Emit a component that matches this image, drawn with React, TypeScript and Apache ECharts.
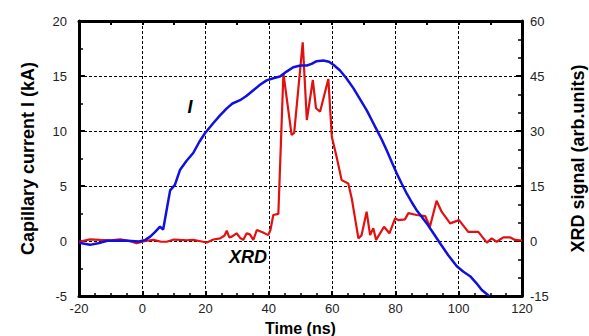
import React, { useEffect, useRef } from "react";
import * as echarts from "echarts";

const currentTime = [-20,-16.5,-14,-11,-6,-1,1,2.5,4,5.6,6.6,7.5,8.8,10.3,11.9,14,16.1,18,19.8,22.4,24.5,26.7,28.5,30.9,33,35.1,37.2,39.3,41.4,43.5,45.6,47.7,50,52,53.5,55.1,57.2,59,60.5,62.5,64.5,66.7,68.8,70.9,72.5,74.1,75.7,77.2,78.8,80.4,82,83.6,85.2,86.7,88.3,89.9,92,94.1,96.7,99.4,101.5,103.6,105.5,107.3,109.6];
const currentKA = [-0.15,-0.35,-0.2,0.03,0.05,-0.05,0.1,0.4,0.8,1.3,1.05,2.5,4.6,5.1,6.45,7.3,8.0,9.0,9.8,10.7,11.4,12.06,12.5,12.8,13.2,13.7,14.2,14.6,14.8,14.95,15.4,15.8,15.95,15.95,16.1,16.35,16.4,16.3,16.0,15.5,14.8,13.9,12.9,11.9,11.0,10.1,9.2,8.27,7.2,6.15,5.2,4.3,3.5,2.8,2.2,1.6,0.7,-0.2,-1.3,-2.3,-2.8,-3.2,-3.8,-4.45,-5];

const xrdTime = [-20,-16.5,-13.4,-10,-7,-4,-1.8,1,3.5,6,7.7,10,11.9,14,16.1,18,20.4,22.5,24.6,26,26.7,27.5,28.3,29.8,31,31.9,33,34,35.1,36.2,38,39.8,40.5,41.4,43,44.6,47.2,48,50.7,52,53.9,54.9,56.2,58.8,59.9,61.4,63,65.1,66.2,68.3,69.3,70.9,72,73,73.9,76.4,78.1,79.9,80.9,83,84.1,86.7,89.4,90.9,93,94.6,97.3,100.1,103,106.2,108.9,110.4,112,114.1,116.2,117.8,120];
const xrdSignal = [-0.2,0.45,0.3,0.2,0.45,0,-0.6,0,0.3,-0.2,-0.2,0.4,0.3,0.2,0.3,0,-0.4,0.4,0.7,1.5,2.8,1.0,1.2,2.1,0.8,0.3,2.1,1.8,0.3,3.0,2.4,1.6,3.0,7.1,7.4,45.7,28.9,29.5,54.2,33,43.9,36.2,35.3,44.2,28.4,23,16.6,15.7,11.6,0.7,1.6,8.0,1.6,3.5,0.3,3.9,2.1,6.2,5.7,5.9,7.6,7.1,6.8,3.9,11.0,8.0,4.8,5.7,2.5,2.5,-0.45,0.7,-0.2,1.0,1.0,0.3,0.1];

const xTicks = [-20, 120, 20];
const leftTicks = [-5, 20, 5];
const rightTicks = [-15, 60, 15];

const FONT = "'Liberation Sans', Arial, sans-serif";

export default function App() {
  const ref = useRef<HTMLDivElement>(null);
  useEffect(() => {
    if (!ref.current) return;
    const chart = echarts.init(ref.current, null, { renderer: "svg" });
    const grid = { color: "#000", type: [3, 2] as any, width: 1 };
    const labelStyle = { color: "#222", fontSize: 13, fontFamily: FONT };
    const nameStyle = { color: "#000", fontSize: 18, fontWeight: "bold" as const, fontFamily: FONT };
    const axisLine = { show: true, onZero: false, lineStyle: { color: "#000", width: 3 } };
    chart.setOption({
      animation: false,
      backgroundColor: "#fff",
      grid: { left: 79, right: 67, top: 21, bottom: 40, containLabel: false, outerBoundsMode: "none" },
      xAxis: [
        {
          type: "value", min: xTicks[0], max: xTicks[1], interval: xTicks[2],
          name: "Time (ns)", nameLocation: "middle", nameGap: 19,
          nameTextStyle: { ...nameStyle, fontSize: 16, lineHeight: 17 },
          axisLine,
          axisTick: { show: true, inside: true, length: 5, lineStyle: { color: "#000", width: 2 } },
          minorTick: { show: true, splitNumber: 4, length: 3, lineStyle: { color: "#000", width: 1.5 } },
          axisLabel: { ...labelStyle, margin: 6 },
          splitLine: { show: true, lineStyle: grid },
        },
        {
          type: "value", min: xTicks[0], max: xTicks[1], interval: 10, position: "top",
          axisLine,
          axisTick: { show: true, inside: true, length: 4, lineStyle: { color: "#000", width: 2 } },
          axisLabel: { show: false },
          splitLine: { show: false },
        },
      ],
      yAxis: [
        {
          type: "value", min: leftTicks[0], max: leftTicks[1], interval: leftTicks[2],
          name: "Capillary current I (kA)", nameLocation: "middle", nameGap: 42, nameRotate: 90,
          nameTextStyle: nameStyle,
          axisLine,
          axisTick: { show: true, inside: true, length: 6, lineStyle: { color: "#000", width: 2 } },
          minorTick: { show: true, splitNumber: 2, length: 4, lineStyle: { color: "#000", width: 1.5 } },
          axisLabel: { ...labelStyle, margin: 12 },
          splitLine: { show: true, lineStyle: grid },
        },
        {
          type: "value", min: rightTicks[0], max: rightTicks[1], interval: rightTicks[2], position: "right",
          name: "XRD signal (arb.units)", nameLocation: "middle", nameGap: 47, nameRotate: 90,
          nameTextStyle: nameStyle,
          axisLine,
          axisTick: { show: true, inside: true, length: 6, lineStyle: { color: "#000", width: 2 } },
          minorTick: { show: true, splitNumber: 3, length: 4, lineStyle: { color: "#000", width: 1.5 } },
          axisLabel: { ...labelStyle, margin: 8 },
          splitLine: { show: false },
        },
      ],
      series: [
        {
          name: "XRD", type: "line", xAxisIndex: 0, yAxisIndex: 1, showSymbol: false,
          data: xrdTime.map((t, i) => [t, xrdSignal[i]]),
          lineStyle: { color: "#e31010", width: 2.2 }, z: 3,
        },
        {
          name: "I", type: "line", xAxisIndex: 0, yAxisIndex: 0, showSymbol: false,
          data: currentTime.map((t, i) => [t, currentKA[i]]),
          lineStyle: { color: "#1010e0", width: 2.5 }, z: 4,
        },
      ],
      graphic: [
        { type: "text", x: 190, y: 107, style: { text: "I", font: `italic bold 18px ${FONT}`, fill: "#000", align: "center", verticalAlign: "middle" } },
        { type: "text", x: 248, y: 257, style: { text: "XRD", font: `italic bold 18px ${FONT}`, fill: "#000", align: "center", verticalAlign: "middle" } },
      ],
    });
    return () => chart.dispose();
  }, []);
  return <div ref={ref} style={{ width: 589, height: 336, position: "absolute", left: 0, top: 0 }} />;
}
